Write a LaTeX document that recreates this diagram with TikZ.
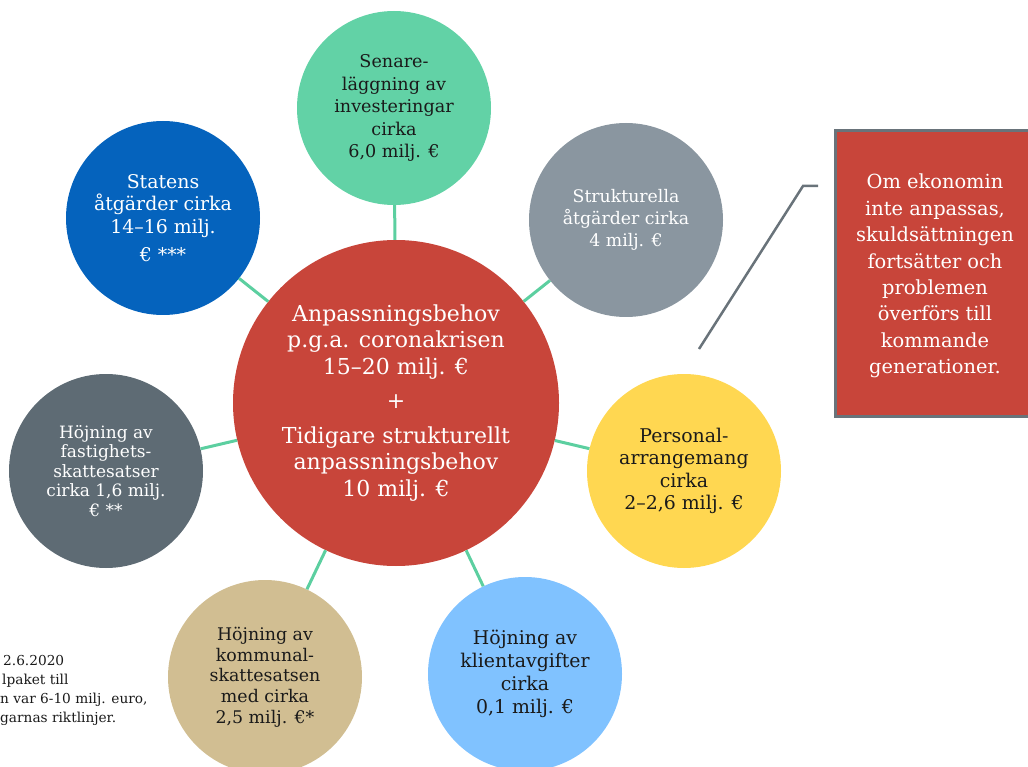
\documentclass[tikz,border=0pt]{standalone}
\usepackage{fontspec}
\setmainfont{DejaVu Serif}
\definecolor{cred}{HTML}{C8453A}
\definecolor{cgreen}{HTML}{62D2A6}
\definecolor{cgray}{HTML}{8A96A0}
\definecolor{cblue}{HTML}{0563BD}
\definecolor{cslate}{HTML}{5E6B74}
\definecolor{cyellow}{HTML}{FFD751}
\definecolor{clblue}{HTML}{80C2FF}
\definecolor{ctan}{HTML}{D1BE92}
\definecolor{cconn}{HTML}{5CCFA0}
\definecolor{cborder}{HTML}{69737A}
\definecolor{ctext}{HTML}{1A1A1A}
\begin{document}
\begin{tikzpicture}[x=1pt,y=-1pt,
  sat/.style={circle,inner sep=0pt,minimum size=194pt,align=center},
  dark/.style={sat,text=white},
  light/.style={sat,text=ctext},
  conn/.style={draw=cconn,line width=3pt},
  callout/.style={draw=cborder,line width=2.5pt},
  notebox/.style={fill=cred,draw=cborder,line width=3pt,minimum width=210pt,minimum height=285pt,inner sep=0pt},
  notetext/.style={text=white,align=center,font=\fontsize{19.4}{26.4}\selectfont},
  foot/.style={anchor=base west,inner sep=0pt,font=\fontsize{13.7}{16}\selectfont,text=ctext}]
\useasboundingbox (0,0) rectangle (1028,767);
\clip (0,0) rectangle (1028,767);

\node[circle,fill=cred,inner sep=0pt,minimum size=326pt,text=white,align=center,
  font=\fontsize{22}{26.5}\selectfont] (c) at (396,403)
  {Anpassningsbehov\\p.g.a. coronakrisen\\15–20 milj. €\\[8pt]+\\[8pt]Tidigare strukturellt\\anpassningsbehov\\10 milj. €};

\node[light,fill=cgreen,font=\fontsize{17.6}{22.5}\selectfont] (s1) at (394,108) {Senare-\\läggning av\\investeringar\\cirka\\6,0 milj. €};
\node[dark,fill=cgray,font=\fontsize{17.3}{22}\selectfont] (s2) at (626,220) {Strukturella\\åtgärder cirka\\4 milj. €};
\node[light,fill=cyellow,font=\fontsize{18.9}{22.5}\selectfont] (s3) at (684,471) {Personal-\\arrangemang\\cirka\\2–2,6 milj. €};
\node[light,fill=clblue,font=\fontsize{18.9}{23}\selectfont] (s4) at (525,674) {Höjning av\\klientavgifter\\cirka\\0,1 milj. €};
\node[light,fill=ctan,font=\fontsize{17.4}{20.7}\selectfont] (s5) at (265,677) {Höjning av\\kommunal-\\skattesatsen\\med cirka\\2,5 milj. €*};
\node[dark,fill=cslate,font=\fontsize{17}{19.5}\selectfont] (s6) at (106,471) {Höjning av\\fastighets-\\skattesatser\\cirka 1,6 milj.\\€ **};
\node[dark,fill=cblue,font=\fontsize{18.9}{22.5}\selectfont] (s7) at (163,218) {Statens\\åtgärder cirka\\14–16 milj.\\[5.5pt]€ ***};

\foreach \s in {s1,s2,s3,s4,s5,s6,s7} \draw[conn] (c) -- (\s);

\node[notebox] (box) at (940,273.5) {};
\node[notetext] (bt) at (935,276) {Om ekonomin\\inte anpassas,\\skuldsättningen\\fortsätter och\\problemen\\överförs till\\kommande\\generationer.};

\coordinate (p1) at (699,349);
\coordinate (p2) at (803,186);
\coordinate (p3) at (818,186);
\draw[callout] (p1) -- (p2) -- (p3);

\node[foot] (f1) at (3,665) {2.6.2020};
\node[foot] (f2) at (2,684) {lpaket till};
\node[foot] (f3) at (0,703) {n var 6-10 milj. euro,};
\node[foot] (f4) at (0,722) {garnas riktlinjer.};
\end{tikzpicture}
\end{document}
